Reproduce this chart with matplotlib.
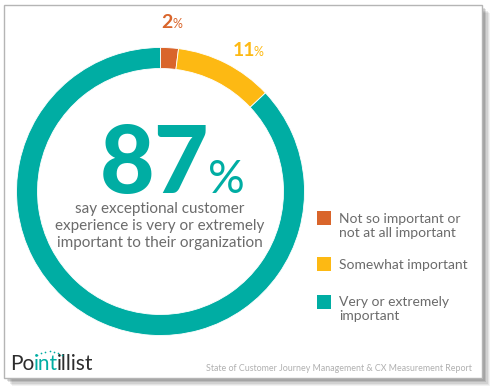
import matplotlib
matplotlib.use("Agg")
import matplotlib.pyplot as plt
from matplotlib.patches import Rectangle
import numpy as np

plt.rcParams['font.family'] = ['Lato', 'DejaVu Sans']

categories = ["Not so important or\nnot at all important", "Somewhat important", "Very or extremely\nimportant"]
values = [2, 11, 87]
colors = ["#D9652B", "#FDB913", "#00ADA3"]
headline = "87"
subtitle = "say exceptional customer\nexperience is very or extremely\nimportant to their organization"
source = "State of Customer Journey Management & CX Measurement Report"

W, H = 495, 392
fig = plt.figure(figsize=(W / 100, H / 100), dpi=100, facecolor="white")

bg = fig.add_axes([0, 0, 1, 1])
bg.set_xlim(0, W)
bg.set_ylim(H, 0)
bg.axis("off")

# card with shadow
for i, a in enumerate([0.05, 0.06, 0.08, 0.10, 0.12]):
    off = 8 - i * 1.2
    bg.add_patch(Rectangle((4 + off, 5 + off), 478, 373, facecolor="black", alpha=a, edgecolor="none", zorder=0))
bg.add_patch(Rectangle((4, 5), 478, 373, facecolor="white", edgecolor="#b5b5b5", lw=1.0, zorder=1))

# Donut
cx, cy, r = 160.5, 191.5, 144
pax = fig.add_axes([(cx - r) / W, 1 - (cy + r) / H, 2 * r / W, 2 * r / H])
pax.pie(values, colors=colors, startangle=90, counterclock=False, radius=1.0,
        wedgeprops=dict(width=21 / 144, edgecolor="white", linewidth=0.6))
pax.set_xlim(-1, 1)
pax.set_ylim(-1, 1)
pax.set_aspect("auto")
pax.axis("off")

renderer = fig.canvas.get_renderer()


def right_of(txt, gap=0.0):
    bb = txt.get_window_extent(renderer=renderer)
    return bb.x1 + gap  # pixels; bg x data == pixels


# slice labels
t = bg.text(161, 28, str(values[0]), color=colors[0], fontsize=14, fontweight="bold", ha="left", va="baseline", zorder=5)
bg.text(right_of(t, 0.0), 28, "%", color=colors[0], fontsize=9, ha="left", va="baseline", zorder=5)
t = bg.text(233, 56, str(values[1]), color=colors[1], fontsize=14, fontweight="bold", ha="left", va="baseline", zorder=5)
bg.text(right_of(t, -1.5), 56, "%", color=colors[1], fontsize=9, ha="left", va="baseline", zorder=5)

# headline
t = bg.text(100, 193, headline, color=colors[2], fontsize=68, fontweight="black", ha="left", va="baseline", zorder=5)
bg.text(right_of(t, -2), 193, "%", color=colors[2], fontsize=33, ha="left", va="baseline", zorder=5)
bg.text(160, 226, subtitle, color="#6b6b6b", fontsize=11.0, ha="center", va="center", linespacing=1.25, zorder=5)

# legend
sq_y = [211, 257, 295]
txt_y = [226, 265, 309]
for sy, ty, c, lab in zip(sq_y, txt_y, colors, categories):
    bg.add_patch(Rectangle((317, sy), 14, 14, facecolor=c, edgecolor="none", zorder=5))
    bg.text(339, ty, lab, color="#6b6b6b", fontsize=10.0, ha="left", va="center", linespacing=1.28, zorder=5)

# logo
t1 = bg.text(10, 370, "Po", color="#2d2d2d", fontsize=15, ha="left", va="baseline", zorder=5)
x_int0 = right_of(t1, -0.5)
t2 = bg.text(x_int0, 370, "int", color="#00ADA3", fontsize=15, ha="left", va="baseline", zorder=5)
x_int1 = right_of(t2, -0.5)
bg.text(x_int1, 370, "illist", color="#2d2d2d", fontsize=15, ha="left", va="baseline", zorder=5)
tt = np.linspace(0.1, 0.9, 7)
bg.scatter(x_int0 + (x_int1 - x_int0 + 8) * tt, 357 - 6 * np.sin(np.pi * tt),
           s=1.5, color="#00ADA3", zorder=5, linewidths=0)

bg.text(472, 371, source, color="#b0b0b0", fontsize=6.4, ha="right", va="baseline", zorder=5)

fig.savefig("out.png", dpi=100, facecolor="white")
